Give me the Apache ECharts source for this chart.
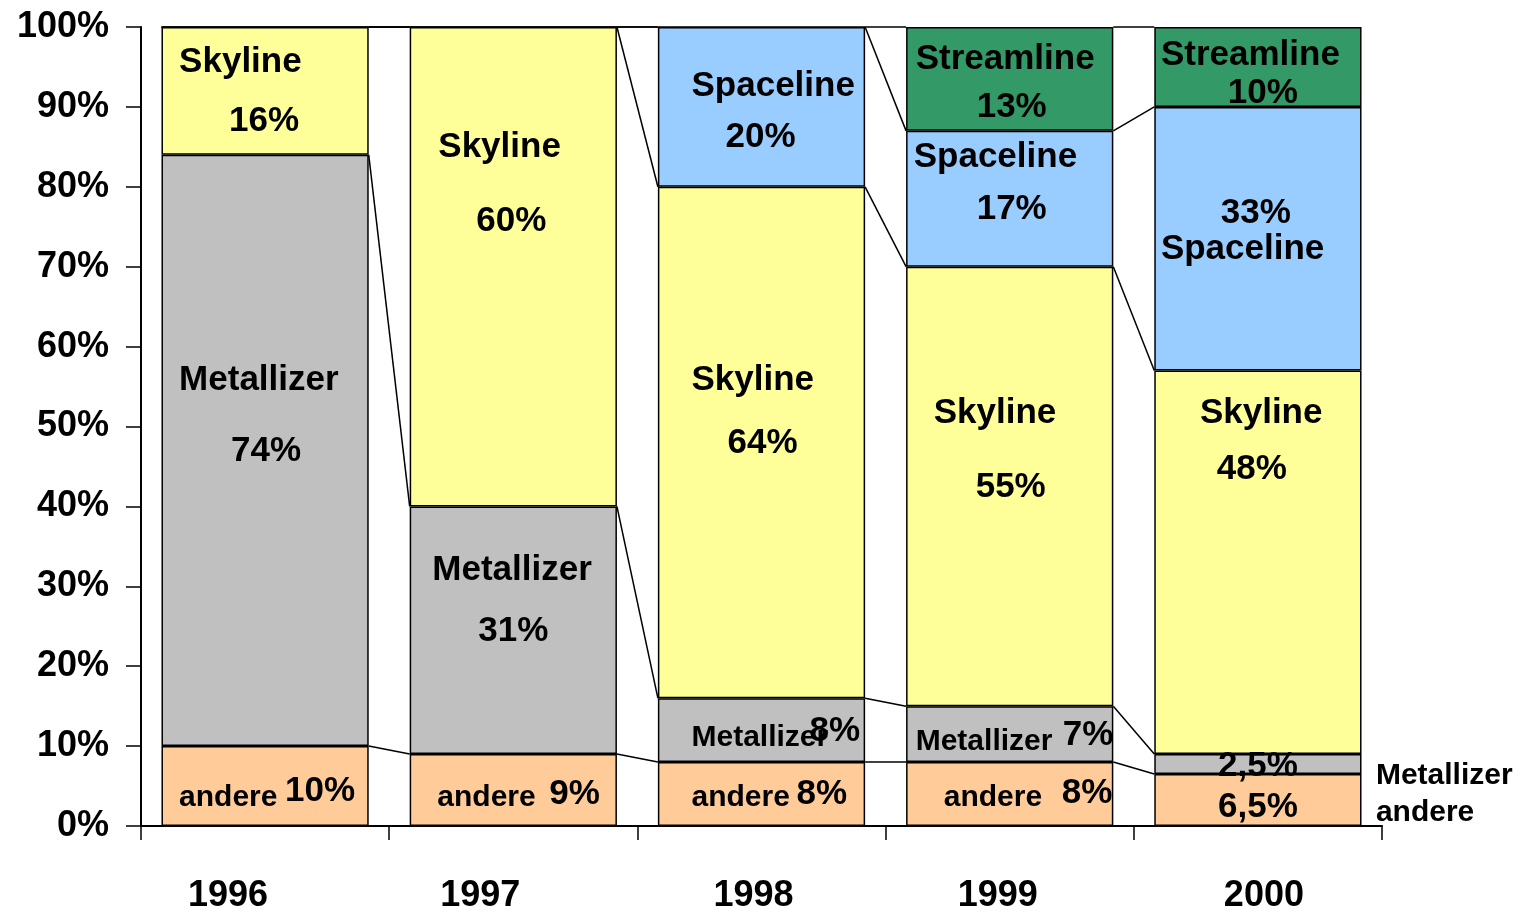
<!DOCTYPE html>
<html>
<head>
<meta charset="utf-8">
<script src="https://cdn.jsdelivr.net/npm/echarts@6/dist/echarts.min.js"></script>
<style>
  html, body { margin: 0; padding: 0; background: #fff; }
  #main { width: 1521px; height: 912px; }
</style>
</head>
<body>
<div id="main"></div>
<script>
let years = ['1996', '1997', '1998', '1999', '2000'];
let seriesNames = ['andere', 'Metallizer', 'Skyline', 'Spaceline', 'Streamline'];
let andere = [10, 9, 8, 8, 6.5];
let metallizer = [74, 31, 8, 7, 2.5];
let skyline = [16, 60, 64, 55, 48];
let spaceline = [0, 0, 20, 17, 33];
let streamline = [0, 0, 0, 13, 10];
let yTicks = [0, 10, 20, 30, 40, 50, 60, 70, 80, 90, 100];

let colors = ['#FFCC99', '#C0C0C0', '#FFFF99', '#99CCFF', '#339966'];
let allValues = [andere, metallizer, skyline, spaceline, streamline];
let FONT = '"Liberation Sans", Arial, sans-serif';
let BAR_RATIO = 0.835;

// year captions sit a little off the bar centres (px)
let yearShift = [-37, -33, -8, -12, 6];

// where each text sits: series index, year index, what to show,
// horizontal offset from bar centre (px), height in axis units, size, align
let labelLayout = [
  [2, 0, 'name', -86, 95.6, 35, 'left'], [2, 0, 'value', -1, 88.2, 35, 'center'],
  [1, 0, 'name', -86, 55.8, 35, 'left'], [1, 0, 'value', 1, 46.9, 35, 'center'],
  [0, 0, 'name', -86, 3.5, 30, 'left'], [0, 0, 'value', 20, 4.4, 35, 'left'],

  [2, 1, 'name', -75, 84.9, 35, 'left'], [2, 1, 'value', -2, 75.7, 35, 'center'],
  [1, 1, 'name', -81, 32.0, 35, 'left'], [1, 1, 'value', 0, 24.4, 35, 'center'],
  [0, 1, 'name', -76, 3.5, 30, 'left'], [0, 1, 'value', 36, 3.9, 35, 'left'],

  [3, 2, 'name', -70, 92.6, 35, 'left'], [3, 2, 'value', -1, 86.2, 35, 'center'],
  [2, 2, 'name', -70, 55.8, 35, 'left'], [2, 2, 'value', 1, 47.9, 35, 'center'],
  [1, 2, 'name', -70, 11.1, 30, 'left'], [1, 2, 'value', 48, 11.9, 35, 'left'],
  [0, 2, 'name', -70, 3.5, 30, 'left'], [0, 2, 'value', 35, 3.9, 35, 'left'],

  [4, 3, 'name', -94, 95.9, 35, 'left'], [4, 3, 'value', 2, 90.0, 35, 'center'],
  [3, 3, 'name', -96, 83.7, 35, 'left'], [3, 3, 'value', 2, 77.2, 35, 'center'],
  [2, 3, 'name', -76, 51.6, 35, 'left'], [2, 3, 'value', 1, 42.4, 35, 'center'],
  [1, 3, 'name', -94, 10.6, 30, 'left'], [1, 3, 'value', 53, 11.4, 35, 'left'],
  [0, 3, 'name', -66, 3.5, 30, 'left'], [0, 3, 'value', 52, 4.1, 35, 'left'],

  [4, 4, 'name', -97, 96.4, 35, 'left'], [4, 4, 'value', 5, 91.7, 35, 'center'],
  [3, 4, 'value', -2, 76.7, 35, 'center'], [3, 4, 'name', -97, 72.2, 35, 'left'],
  [2, 4, 'name', -58, 51.6, 35, 'left'], [2, 4, 'value', -6, 44.7, 35, 'center'],
  [1, 4, 'value', 0, 7.5, 35, 'center'], [0, 4, 'value', 0, 2.3, 35, 'center'],
  [1, 4, 'name', 118, 6.3, 30, 'left'], [0, 4, 'name', 118, 1.6, 30, 'left']
];

// cumulative tops of every segment
let tops = allValues.map(function (vals, s) {
  return vals.map(function (v, i) {
    let sum = 0;
    for (let k = 0; k <= s; k++) sum += allValues[k][i];
    return sum;
  });
});

// series lines between neighbouring bars
let connectorData = [];
for (let s = 0; s < seriesNames.length; s++) {
  for (let i = 0; i < years.length - 1; i++) {
    connectorData.push([i, tops[s][i], tops[s][i + 1]]);
  }
}

let labelData = labelLayout.map(function (l) {
  let text = l[2] === 'name'
    ? seriesNames[l[0]]
    : String(allValues[l[0]][l[1]]).replace('.', ',') + '%';
  return { value: [l[1], l[4]], text: text, dx: l[3], size: l[5], align: l[6] };
});

let yearData = years.map(function (y, i) {
  return [i, 0];
});

let chartDom = document.getElementById('main');
let myChart = echarts.init(chartDom);

let barSeries = seriesNames.map(function (name, s) {
  return {
    name: name,
    type: 'bar',
    stack: 'total',
    barWidth: (BAR_RATIO * 100) + '%',
    data: allValues[s],
    itemStyle: {
      color: colors[s],
      borderColor: '#000',
      borderWidth: 1.5
    },
    emphasis: { disabled: true }
  };
});

let option = {
  animation: false,
  backgroundColor: '#fff',
  grid: { left: 141, right: 139, top: 27, bottom: 86 },
  xAxis: {
    type: 'category',
    data: years,
    axisLine: { lineStyle: { color: '#000', width: 2 } },
    axisTick: { show: true, length: 14, lineStyle: { color: '#000', width: 1.5 } },
    axisLabel: { show: false }
  },
  yAxis: {
    type: 'value',
    min: 0,
    max: 100,
    interval: 10,
    axisLine: { show: true, lineStyle: { color: '#000', width: 2 } },
    axisTick: { show: true, length: 15, lineStyle: { color: '#000', width: 1.5 } },
    splitLine: { show: false },
    axisLabel: {
      margin: 32,
      color: '#000',
      fontSize: 36,
      fontWeight: 'bold',
      fontFamily: FONT,
      formatter: function (v) { return yTicks.indexOf(v) >= 0 ? v + '%' : ''; }
    }
  },
  series: barSeries.concat([
    {
      name: 'connectors',
      type: 'custom',
      z: 1,
      silent: true,
      data: connectorData,
      encode: { x: 0, y: 1 },
      renderItem: function (params, api) {
        let i = api.value(0);
        let half = api.size([1, 0])[0] * BAR_RATIO / 2;
        let p1 = api.coord([i, api.value(1)]);
        let p2 = api.coord([i + 1, api.value(2)]);
        return {
          type: 'line',
          shape: { x1: p1[0] + half, y1: p1[1], x2: p2[0] - half, y2: p2[1] },
          style: { stroke: '#000', lineWidth: 1.5 }
        };
      }
    },
    {
      name: 'labels',
      type: 'custom',
      z: 10,
      silent: true,
      clip: false,
      data: labelData,
      encode: { x: 0, y: 1 },
      renderItem: function (params, api) {
        let d = labelData[params.dataIndex];
        let p = api.coord([api.value(0), api.value(1)]);
        return {
          type: 'text',
          style: {
            text: d.text,
            x: p[0] + d.dx,
            y: p[1],
            align: d.align,
            verticalAlign: 'middle',
            fill: '#000',
            font: 'bold ' + d.size + 'px ' + FONT
          }
        };
      }
    },
    {
      name: 'years',
      type: 'custom',
      z: 10,
      silent: true,
      clip: false,
      data: yearData,
      encode: { x: 0, y: 1 },
      renderItem: function (params, api) {
        let i = api.value(0);
        let p = api.coord([i, 0]);
        return {
          type: 'text',
          style: {
            text: years[i],
            x: p[0] + yearShift[i],
            y: p[1] + 70,
            align: 'center',
            verticalAlign: 'middle',
            fill: '#000',
            font: 'bold 36px ' + FONT
          }
        };
      }
    }
  ])
};

myChart.setOption(option);
</script>
</body>
</html>
